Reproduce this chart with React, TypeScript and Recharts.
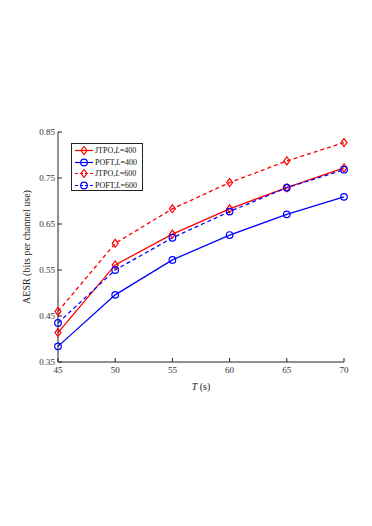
import { LineChart, Line, XAxis, YAxis } from 'recharts';

const times = [45, 50, 55, 60, 65, 70];
const jtpo400 = [0.414, 0.561, 0.628, 0.683, 0.729, 0.772];
const poft400 = [0.384, 0.496, 0.572, 0.626, 0.671, 0.709];
const jtpo600 = [0.46, 0.608, 0.683, 0.74, 0.787, 0.827];
const poft600 = [0.435, 0.55, 0.62, 0.677, 0.729, 0.768];
const yTicks = [0.35, 0.45, 0.55, 0.65, 0.75, 0.85];

const RED = '#ff0000';
const BLUE = '#0000ff';
const FONT = '"Liberation Serif", "Times New Roman", serif';

const data = times.map((t, i) => ({
  t,
  jtpo400: jtpo400[i],
  poft400: poft400[i],
  jtpo600: jtpo600[i],
  poft600: poft600[i],
}));

const series = [
  { key: 'jtpo400', name: 'JTPO', L: 400, color: RED, dash: undefined, shape: 'diamond' },
  { key: 'poft400', name: 'POFT', L: 400, color: BLUE, dash: undefined, shape: 'circle' },
  { key: 'jtpo600', name: 'JTPO', L: 600, color: RED, dash: '4 3', shape: 'diamond' },
  { key: 'poft600', name: 'POFT', L: 600, color: BLUE, dash: '4 3', shape: 'circle' },
];

function Marker({ cx, cy, color, shape }: { cx: number; cy: number; color: string; shape: string }) {
  if (shape === 'diamond') {
    return (
      <polygon
        points={`${cx},${cy - 4} ${cx + 3},${cy} ${cx},${cy + 4} ${cx - 3},${cy}`}
        fill="none"
        stroke={color}
        strokeWidth={1.2}
      />
    );
  }
  return <circle cx={cx} cy={cy} r={3.3} fill="none" stroke={color} strokeWidth={1.2} />;
}

function LegendBox() {
  return (
    <div
      style={{
        position: 'absolute',
        left: 63,
        top: 135,
        width: 72,
        height: 48,
        border: '1px solid #222',
        background: '#fff',
        fontFamily: FONT,
        fontSize: 8,
        color: '#111',
        padding: '1px 0',
        boxSizing: 'border-box',
      }}
    >
      {series.map((s) => (
        <div key={s.key} style={{ display: 'flex', alignItems: 'center', height: 11.5 }}>
          <svg width={20} height={11} style={{ marginLeft: 2 }}>
            <line
              x1={1}
              x2={19}
              y1={5.5}
              y2={5.5}
              stroke={s.color}
              strokeWidth={1.2}
              strokeDasharray={s.dash ? '3 2' : undefined}
            />
            <Marker cx={10} cy={5.5} color={s.color} shape={s.shape} />
          </svg>
          <span style={{ marginLeft: 1, whiteSpace: 'nowrap' }}>
            {s.name},<i>L</i>={s.L}
          </span>
        </div>
      ))}
    </div>
  );
}

export default function App() {
  return (
    <div style={{ position: 'relative', width: 364, height: 510 }}>
      <LineChart
        width={364}
        height={510}
        data={data}
        margin={{ top: 124, right: 28, bottom: 116, left: 0 }}
        style={{ fontFamily: FONT }}
      >
        <XAxis
          dataKey="t"
          type="number"
          domain={[45, 70]}
          ticks={times}
          tickSize={-4}
          tickMargin={9}
          height={40}
          stroke="#222"
          tick={{ fill: '#333', fontSize: 9, fontFamily: FONT }}
          label={{
            content: ({ viewBox }: any) => (
              <text
                x={viewBox.x + viewBox.width / 2}
                y={viewBox.y + 28}
                textAnchor="middle"
                fontFamily={FONT}
                fontSize={10}
                fill="#222"
              >
                <tspan fontStyle="italic">T</tspan> (s)
              </text>
            ),
          }}
        />
        <XAxis
          xAxisId="top"
          dataKey="t"
          type="number"
          orientation="top"
          domain={[45, 70]}
          ticks={times}
          tickSize={-4}
          tickFormatter={() => ''}
          height={0}
          stroke="#222"
        />
        <YAxis
          domain={[0.35, 0.85]}
          ticks={yTicks}
          tickSize={-4}
          tickMargin={7}
          width={50}
          stroke="#222"
          tickFormatter={(v: number) => v.toFixed(2)}
          tick={{ fill: '#333', fontSize: 9, fontFamily: FONT }}
          label={{
            content: ({ viewBox }: any) => {
              const cy = viewBox.y + viewBox.height / 2;
              return (
                <text
                  x={22}
                  y={cy}
                  transform={`rotate(-90, 22, ${cy})`}
                  textAnchor="middle"
                  fontFamily={FONT}
                  fontSize={10}
                  fill="#222"
                >
                  AESR (bits per channel use)
                </text>
              );
            },
          }}
        />
        <YAxis
          yAxisId="right"
          orientation="right"
          domain={[0.35, 0.85]}
          ticks={yTicks}
          tickSize={-4}
          tickFormatter={() => ''}
          width={0}
          stroke="#222"
        />
        {series.map((s) => (
          <Line
            key={s.key}
            dataKey={s.key}
            name={`${s.name}, L=${s.L}`}
            type="linear"
            stroke={s.color}
            strokeWidth={1.3}
            strokeDasharray={s.dash}
            dot={(p: any) => <Marker key={`${s.key}-${p.index}`} cx={p.cx} cy={p.cy} color={s.color} shape={s.shape} />}
            isAnimationActive={false}
          />
        ))}
      </LineChart>
      <LegendBox />
    </div>
  );
}
